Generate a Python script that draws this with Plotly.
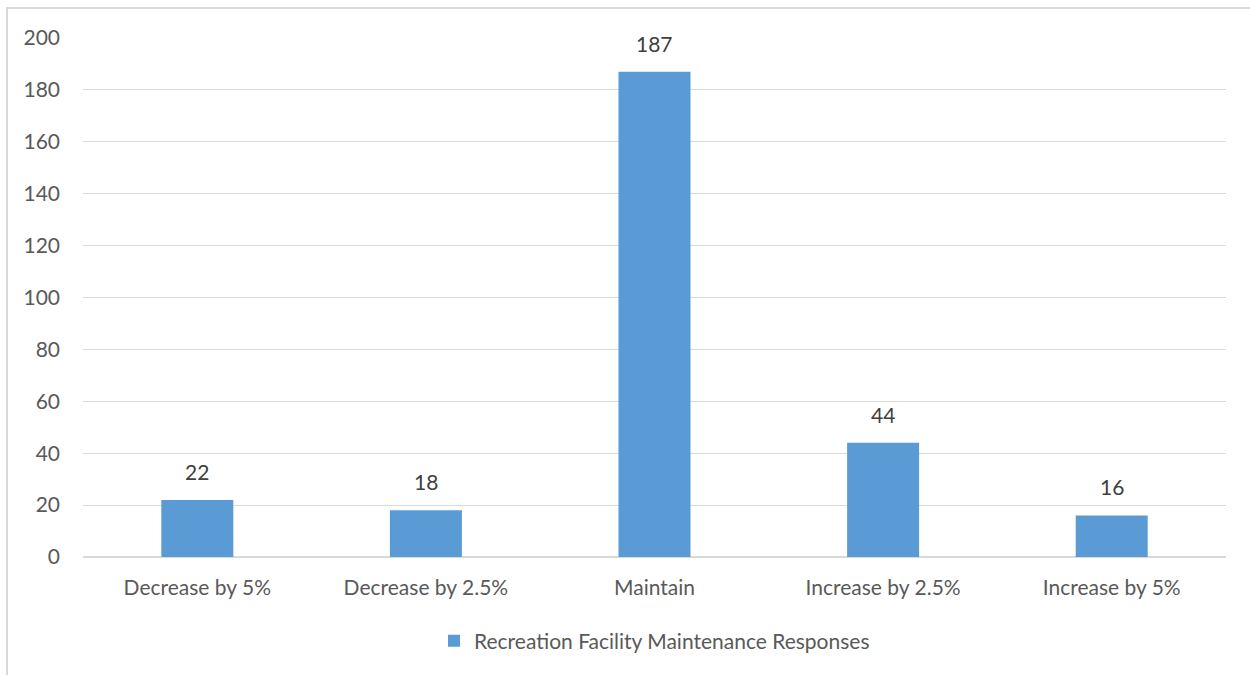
import plotly.graph_objects as go

categories = ["Decrease by 5%", "Decrease by 2.5%", "Maintain", "Increase by 2.5%", "Increase by 5%"]
responses = [22, 18, 187, 44, 16]
series_name = "Recreation Facility Maintenance Responses"
y_ticks = [0, 20, 40, 60, 80, 100, 120, 140, 160, 180, 200]

FONT = "Lato"
SIZE = 21

fig = go.Figure()
fig.add_trace(go.Bar(
    x=categories,
    y=responses,
    name=series_name,
    marker=dict(color="#5b9bd5", line=dict(width=0)),
    showlegend=True,
))

# value labels above each bar
for cat, val in zip(categories, responses):
    fig.add_annotation(
        x=cat, y=val, text=str(val),
        showarrow=False, yanchor="bottom", yshift=14,
        font=dict(family=FONT, size=SIZE, color="#404040"),
    )

fig.update_layout(
    width=1250,
    height=675,
    margin=dict(l=83, r=24, t=38, b=118),
    paper_bgcolor="white",
    plot_bgcolor="white",
    bargap=0.685,
    font=dict(family=FONT, size=SIZE, color="#595959"),
    xaxis=dict(
        showgrid=False,
        showline=False,
        ticks="",
        ticklabelstandoff=16,
        tickfont=dict(family=FONT, size=SIZE, color="#595959"),
    ),
    yaxis=dict(
        range=[0, 200],
        tickvals=y_ticks,
        showgrid=True,
        gridcolor="#d9d9d9",
        gridwidth=1,
        zeroline=True,
        zerolinecolor="#d9d9d9",
        zerolinewidth=2,
        showline=False,
        ticks="",
        ticklabelstandoff=22,
        tickfont=dict(family=FONT, size=SIZE, color="#595959"),
    ),
    legend=dict(
        orientation="h",
        x=0.5,
        xanchor="center",
        y=-0.162,
        yanchor="middle",
        font=dict(family=FONT, size=SIZE, color="#595959"),
        itemwidth=30,
    ),
    shapes=[
        dict(
            type="rect",
            xref="paper",
            yref="paper",
            x0=-0.0665,
            x1=1.2,
            y0=-0.4,
            y1=1.0578,
            line=dict(color="#d9d9d9", width=2),
            fillcolor="rgba(0,0,0,0)",
            layer="below",
        )
    ],
)

fig.write_html("out.html")
